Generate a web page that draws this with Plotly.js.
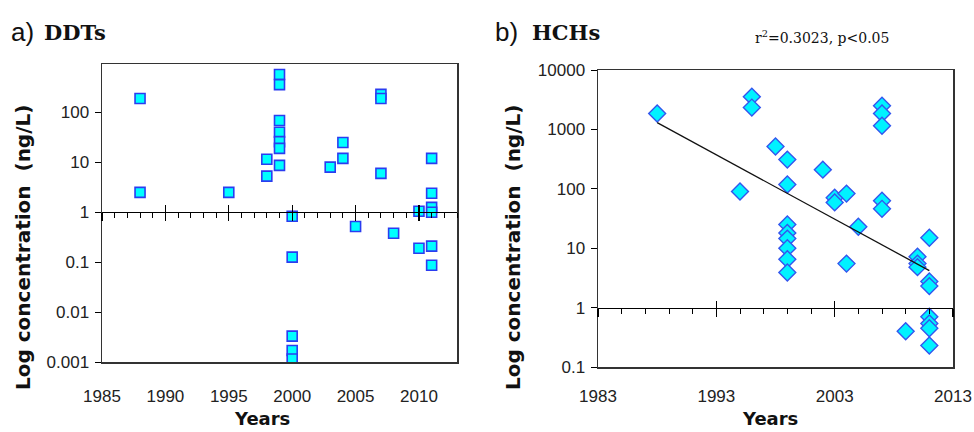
<!DOCTYPE html>
<html><head><meta charset="utf-8">
<script src="https://cdn.plot.ly/plotly-3.0.1.min.js"></script>
<style>html,body{margin:0;padding:0;background:#fff}</style>
</head><body><div id="chart" style="width:974px;height:432px"></div>
<script>
// ---- Data ----
const ddtYears  = [1988,1988,1995,1998,1998,1999,1999,1999,1999,1999,1999,1999,2000,2000,2000,2000,2000,2003,2004,2004,2005,2007,2007,2007,2008,2010,2010,2011,2011,2011,2011,2011,2011];
const ddtValues = [190,2.5,2.5,11.5,5.3,575,360,69,40,26,19,8.7,0.83,0.126,0.0033,0.0017,0.00115,8,25,12,0.52,230,190,6,0.38,1.05,0.19,12,2.4,1.25,1.0,0.21,0.087];

const hchYears  = [1988,1995,1996,1996,1998,1999,1999,1999,1999,1999,1999,1999,1999,2002,2003,2003,2004,2004,2005,2007,2007,2007,2007,2007,2009,2010,2010,2010,2011,2011,2011,2011,2011,2011,2011];
const hchValues = [1850,90,3560,2330,515,310,118,25,18,14.5,10,6.5,3.9,210,71,59,83,5.5,23,2500,1850,1150,63,46,0.4,7.2,5.5,4.8,15,2.75,2.3,0.7,0.54,0.45,0.23];

const trendYears  = [1988, 2011];
const trendValues = [1300, 4.2];

const ddtTickVals = [0.001,0.01,0.1,1,10,100];
const ddtTickText = ['0.001','0.01','0.1','1','10','100'];
const hchTickVals = [0.1,1,10,100,1000,10000];
const hchTickText = ['0.1','1','10','100','1000','10000'];
const ddtYearTicks = [1985,1990,1995,2000,2005,2010];
const hchYearTicks = [1983,1993,2003,2013];

// ---- Layout geometry ----
const W = 974, H = 432;
const px = v => v / W;
const py = v => 1 - v / H;
const domXL = [px(102), px(457)], domYL = [py(362), py(64)];
const domXR = [px(598), px(953)], domYR = [py(367), py(70)];
const rangeYL = [-3, 2.97], rangeYR = [-1, 4];
const rangeXL = [1985, 2013], rangeXR = [1983, 2013];
const crossPos = (dom, r) => dom[0] + (0 - r[0]) / (r[1] - r[0]) * (dom[1] - dom[0]);
const posL = crossPos(domYL, rangeYL), posR = crossPos(domYR, rangeYR);

const tickFont = {family: 'Liberation Sans, Arial, sans-serif', size: 17, color: '#222'};
const boxColor = '#333';

const baseX = (dom, r, tv, so) => ({domain: dom, range: r, tickmode: 'array', tickvals: tv,
  showline: true, mirror: true, linecolor: boxColor, linewidth: 1.5, ticks: '',
  ticklabelstandoff: so, tickfont: tickFont, showgrid: false, zeroline: false, fixedrange: true});
const baseY = (dom, r, tv, tt) => ({domain: dom, range: r, type: 'log', tickmode: 'array', tickvals: tv, ticktext: tt,
  showline: true, mirror: true, linecolor: boxColor, linewidth: 1.5, ticks: 'outside', ticklen: 6, tickcolor: '#000',
  ticklabelstandoff: 2, tickfont: tickFont, showgrid: false, zeroline: false, fixedrange: true});
const crossOut = (over, pos, r, t0, dt, mdt) => ({overlaying: over, anchor: 'free', position: pos, range: r,
  showline: true, linecolor: '#000', linewidth: 1.2, tickmode: 'linear', tick0: t0, dtick: dt,
  ticks: 'outside', ticklen: 8, tickcolor: '#000', tickwidth: 1.2, showticklabels: false, showgrid: false, zeroline: false,
  minor: {ticks: 'outside', tick0: t0, dtick: mdt, ticklen: 5, tickcolor: '#000', tickwidth: 1, showgrid: false}});
const crossIn = (over, pos, r, t0, dt) => ({overlaying: over, anchor: 'free', position: pos, range: r,
  showline: false, tickmode: 'linear', tick0: t0, dtick: dt, ticks: 'inside', ticklen: 7, tickcolor: '#000', tickwidth: 1.2,
  showticklabels: false, showgrid: false, zeroline: false});

const traces = [
  {x: ddtYears, y: ddtValues, xaxis: 'x', yaxis: 'y', mode: 'markers', type: 'scatter',
   marker: {symbol: 'square', size: 10, color: '#00ffff', line: {color: '#2b3cf0', width: 1.6}}},
  {x: hchYears, y: hchValues, xaxis: 'x2', yaxis: 'y2', mode: 'markers', type: 'scatter',
   marker: {symbol: 'diamond', size: 13, color: '#00f2ff', line: {color: '#3355ee', width: 1.4}}},
  {x: trendYears, y: trendValues, xaxis: 'x2', yaxis: 'y2', mode: 'lines', type: 'scatter',
   line: {color: '#111', width: 1.3}},
  {x: [null], y: [null], xaxis: 'x3', yaxis: 'y', mode: 'markers', type: 'scatter', hoverinfo: 'skip'},
  {x: [null], y: [null], xaxis: 'x5', yaxis: 'y', mode: 'markers', type: 'scatter', hoverinfo: 'skip'},
  {x: [null], y: [null], xaxis: 'x4', yaxis: 'y2', mode: 'markers', type: 'scatter', hoverinfo: 'skip'},
  {x: [null], y: [null], xaxis: 'x6', yaxis: 'y2', mode: 'markers', type: 'scatter', hoverinfo: 'skip'}
];

const ann = (x, y, text, font, extra) => Object.assign({xref: 'paper', yref: 'paper', x: px(x), y: py(y),
  text: text, showarrow: false, font: font, xanchor: 'left', yanchor: 'middle'}, extra || {});
const labelFont = {family: 'Liberation Sans, Arial, sans-serif', size: 26, color: '#111'};
const headFont = {family: 'DejaVu Serif, serif', size: 21, color: '#111'};
const yTitleFont = {family: 'DejaVu Sans, Verdana, sans-serif', size: 20, color: '#111'};
const xTitleFont = {family: 'DejaVu Sans, Verdana, sans-serif', size: 18, color: '#111'};

const layout = {
  width: W, height: H, margin: {l: 0, r: 0, t: 0, b: 0}, showlegend: false,
  paper_bgcolor: '#fff', plot_bgcolor: '#fff',
  xaxis: Object.assign(baseX(domXL, rangeXL, ddtYearTicks, 18), {anchor: 'y'}),
  yaxis: Object.assign(baseY(domYL, rangeYL, ddtTickVals, ddtTickText), {anchor: 'x'}),
  xaxis2: Object.assign(baseX(domXR, rangeXR, hchYearTicks, 13), {anchor: 'y2'}),
  yaxis2: Object.assign(baseY(domYR, rangeYR, hchTickVals, hchTickText), {anchor: 'x2'}),
  xaxis3: crossOut('x', posL, rangeXL, 1985, 5, 1),
  xaxis5: crossIn('x', posL, rangeXL, 1985, 5),
  xaxis4: crossOut('x2', posR, rangeXR, 1983, 10, 2),
  xaxis6: crossIn('x2', posR, rangeXR, 1983, 10),
  annotations: [
    ann(9, 32, 'a)', labelFont),
    ann(42, 32, '<b>DDTs</b>', headFont),
    ann(493, 32, 'b)', labelFont),
    ann(530, 32, '<b>HCHs</b>', headFont),
    ann(822, 37, 'r<sup>2</sup>=0.3023, p&lt;0.05', {family: 'DejaVu Serif, serif', size: 14, color: '#111'}, {xanchor: 'center'}),
    ann(23, 248, '<b>Log concentration  (ng/L)</b>', yTitleFont, {xanchor: 'center', textangle: -90}),
    ann(513, 248, '<b>Log concentration  (ng/L)</b>', yTitleFont, {xanchor: 'center', textangle: -90}),
    ann(262, 418, '<b>Years</b>', xTitleFont, {xanchor: 'center'}),
    ann(770, 418, '<b>Years</b>', xTitleFont, {xanchor: 'center'})
  ]
};

Plotly.newPlot('chart', traces, layout, {displayModeBar: false, staticPlot: true});
</script>
</body></html>
